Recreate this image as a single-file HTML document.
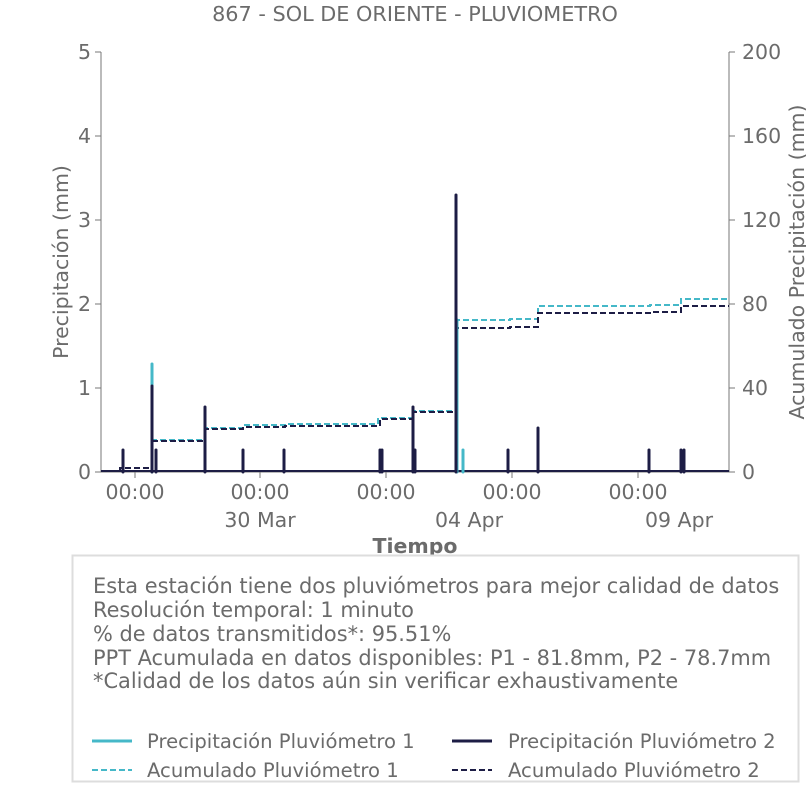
<!DOCTYPE html>
<html><head><meta charset="utf-8"><style>
body{margin:0;background:#fff;}
svg text{font-family:"DejaVu Sans","Liberation Sans",sans-serif;fill:#6b6b6b;}
</style></head><body>
<svg width="806" height="806" xmlns="http://www.w3.org/2000/svg">
<rect width="806" height="806" fill="#fff"/>
<text x="415" y="21" font-size="20.8" text-anchor="middle">867 - SOL DE ORIENTE - PLUVIOMETRO</text>
<line x1="101" y1="52" x2="101" y2="472" stroke="#777" stroke-width="1"/>
<line x1="729" y1="52" x2="729" y2="472" stroke="#777" stroke-width="1"/>
<line x1="101" y1="472" x2="729" y2="472" stroke="#777" stroke-width="1"/>
<g stroke="#777">
<line x1="95" y1="52" x2="101" y2="52"/><line x1="95" y1="136" x2="101" y2="136"/><line x1="95" y1="220" x2="101" y2="220"/><line x1="95" y1="304" x2="101" y2="304"/><line x1="95" y1="388" x2="101" y2="388"/><line x1="95" y1="472" x2="101" y2="472"/>
<line x1="729" y1="52" x2="735" y2="52"/><line x1="729" y1="136" x2="735" y2="136"/><line x1="729" y1="220" x2="735" y2="220"/><line x1="729" y1="304" x2="735" y2="304"/><line x1="729" y1="388" x2="735" y2="388"/><line x1="729" y1="472" x2="735" y2="472"/>
<line x1="135" y1="472" x2="135" y2="478"/><line x1="260" y1="472" x2="260" y2="478"/><line x1="386" y1="472" x2="386" y2="478"/><line x1="512" y1="472" x2="512" y2="478"/><line x1="638" y1="472" x2="638" y2="478"/>
</g>
<g font-size="20.5" text-anchor="end">
<text x="91" y="59">5</text><text x="91" y="143">4</text><text x="91" y="227">3</text><text x="91" y="311">2</text><text x="91" y="395">1</text><text x="91" y="479">0</text>
</g>
<g font-size="20.5" text-anchor="start">
<text x="742" y="59">200</text><text x="742" y="143">160</text><text x="742" y="227">120</text><text x="742" y="311">80</text><text x="742" y="395">40</text><text x="742" y="479">0</text>
</g>
<g font-size="20.5" text-anchor="middle">
<text x="135" y="499">00:00</text><text x="260" y="499">00:00</text><text x="386" y="499">00:00</text><text x="512" y="499">00:00</text><text x="638" y="499">00:00</text>
<text x="260" y="527">30 Mar</text><text x="469" y="527">04 Apr</text><text x="679" y="527">09 Apr</text>
</g>
<text x="415" y="553" font-size="20.5" font-weight="bold" text-anchor="middle">Tiempo</text>
<text transform="translate(68,262) rotate(-90)" font-size="20.5" text-anchor="middle">Precipitación (mm)</text>
<text transform="translate(804,262) rotate(-90)" font-size="20.5" text-anchor="middle">Acumulado Precipitación (mm)</text>
<polyline fill="none" stroke="#45b8c8" stroke-width="2" stroke-dasharray="6,3" points="101,471 120,471 120,468 140,468 152,468 152,440 205,440 205,428 243,428 243,425 285,425 285,424 378,424 378,418 413,418 413,411 456,411 456,320 510,320 510,319 538,319 538,306 650,306 650,305 681,305 681,299 729,299"/>
<polyline fill="none" stroke="#1d1d45" stroke-width="2" stroke-dasharray="6,3" points="101,471 120,471 120,468 152,468 152,441 205,441 205,429 243,429 243,427 285,427 285,426 380,426 380,419 413,419 413,412 456,412 456,328 510,328 510,327 538,327 538,313 650,313 650,312 681,312 681,306 729,306"/>
<line x1="101" y1="471" x2="729" y2="471" stroke="#1d1d45" stroke-width="2"/>
<g stroke="#45b8c8" stroke-width="3" stroke-linecap="round">
<line x1="152" y1="472" x2="152" y2="364"/><line x1="463" y1="472" x2="463" y2="450"/><line x1="457" y1="472" x2="457" y2="320"/>
</g>
<g stroke="#1d1d45" stroke-width="3" stroke-linecap="round">
<line x1="123" y1="472" x2="123" y2="450"/><line x1="152" y1="472" x2="152" y2="386"/><line x1="156" y1="472" x2="156" y2="450"/><line x1="205" y1="472" x2="205" y2="407"/><line x1="243" y1="472" x2="243" y2="450"/><line x1="284" y1="472" x2="284" y2="450"/><line x1="380" y1="472" x2="380" y2="450"/><line x1="382" y1="472" x2="382" y2="450"/><line x1="413" y1="472" x2="413" y2="407"/><line x1="415" y1="472" x2="415" y2="450"/><line x1="456" y1="472" x2="456" y2="195"/><line x1="508" y1="472" x2="508" y2="450"/><line x1="538" y1="472" x2="538" y2="428"/><line x1="649" y1="472" x2="649" y2="450"/><line x1="681" y1="472" x2="681" y2="450"/><line x1="684" y1="472" x2="684" y2="450"/>
</g>
<rect x="72.5" y="555.5" width="726" height="226" fill="#fff" stroke="#ddd" stroke-width="2"/>
<g font-size="20.9">
<text x="93" y="593">Esta estación tiene dos pluviómetros para mejor calidad de datos</text>
<text x="93" y="617">Resolución temporal: 1 minuto</text>
<text x="93" y="641">% de datos transmitidos*: 95.51%</text>
<text x="93" y="665">PPT Acumulada en datos disponibles: P1 - 81.8mm, P2 - 78.7mm</text>
<text x="93" y="688">*Calidad de los datos aún sin verificar exhaustivamente</text>
</g>
<g font-size="19.6">
<line x1="92" y1="741" x2="132" y2="741" stroke="#45b8c8" stroke-width="3"/>
<text x="147" y="748">Precipitación Pluviómetro 1</text>
<line x1="452" y1="741" x2="492" y2="741" stroke="#1d1d45" stroke-width="3"/>
<text x="508" y="748">Precipitación Pluviómetro 2</text>
<line x1="92" y1="770" x2="132" y2="770" stroke="#45b8c8" stroke-width="2" stroke-dasharray="6,3"/>
<text x="147" y="777">Acumulado Pluviómetro 1</text>
<line x1="452" y1="770" x2="492" y2="770" stroke="#1d1d45" stroke-width="2" stroke-dasharray="6,3"/>
<text x="508" y="777">Acumulado Pluviómetro 2</text>
</g>
</svg>
</body></html>
